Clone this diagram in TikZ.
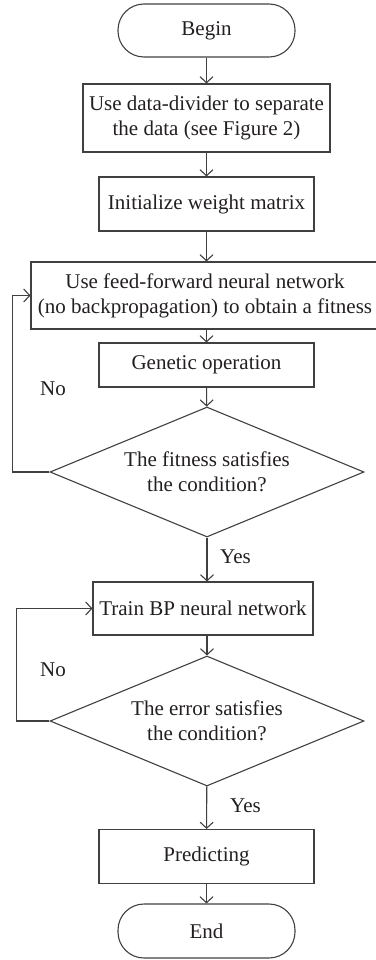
\documentclass[tikz,border=0pt]{standalone}
\usepackage{fontspec}
\setmainfont{Liberation Serif}
\usetikzlibrary{shapes.geometric,arrows.meta}

\definecolor{flowline}{RGB}{64,64,64}
\definecolor{flowtext}{RGB}{35,31,32}

\tikzset{
  procbox/.style={draw=flowline, line width=1.1pt, rectangle, inner sep=0pt, align=center, text=flowtext, font=\fontsize{21}{25}\selectfont},
  termbox/.style={procbox, rounded corners=26pt},
  decbox/.style={procbox, diamond, aspect=2.4, minimum width=314pt, minimum height=130pt},
  flowarr/.style={draw=flowline, line width=1.1pt, -{Straight Barb[length=6pt,width=13pt]}},
  flowlbl/.style={inner sep=0pt, anchor=west, text=flowtext, font=\fontsize{21}{25}\selectfont}
}

\begin{document}
\begin{tikzpicture}[x=1pt,y=1pt,yscale=-1]
            \useasboundingbox (0,0) rectangle (375,960); %page of 375 x 960

            % Terminal
            \node [termbox, minimum width=177pt, minimum height=53pt] (start) at (206.5,30.5) {Begin};
            % Process
            \node [procbox, minimum width=247pt, minimum height=68pt] (divide) at (206.5,118) {Use data-divider to separate\\the data (see Figure 2)};
            % Process
            \node [procbox, minimum width=215pt, minimum height=54pt] (init) at (206.5,204) {Initialize weight matrix};
            % Process
            \node [procbox, minimum width=348pt, minimum height=67pt] (feed) at (205,295.5) {Use feed-forward neural network\\(no backpropagation) to obtain a fitness};
            % Process
            \node [procbox, minimum width=215pt, minimum height=44pt] (genetic) at (206.5,365) {Genetic operation};
            % Decision
            \node [decbox] (fitcheck) at (207,472) {The fitness satisfies\\the condition?};
            % Process
            \node [procbox, minimum width=220pt, minimum height=53pt] (train) at (203,608.5) {Train BP neural network};
            % Decision
            \node [decbox] (errcheck) at (207,721) {The error satisfies\\the condition?};
            % Process
            \node [procbox, minimum width=215pt, minimum height=54pt] (predict) at (206.5,856.5) {Predicting};
            % Terminal
            \node [termbox, minimum width=177pt, minimum height=54pt] (stop) at (206.5,931) {End};

            % Text Node
            \node [flowlbl] (nofit) at (40,389) {No};
            % Text Node
            \node [flowlbl] (yesfit) at (220,557) {Yes};
            % Text Node
            \node [flowlbl] (noerr) at (40,670) {No};
            % Text Node
            \node [flowlbl] (yeserr) at (230,806) {Yes};

            %Straight Lines
            \draw [flowarr] (start) -- (divide);
            \draw [flowarr] (divide) -- (init);
            \draw [flowarr] (init) -- (init |- feed.north);
            \draw [flowarr] (genetic |- feed.south) -- (genetic);
            \draw [flowarr] (genetic) -- (fitcheck);
            \draw [flowarr] (fitcheck.south) -- (fitcheck.south |- train.north);
            \draw [flowarr] (errcheck.north |- train.south) -- (errcheck.north);
            \draw [flowarr] (errcheck) -- (predict);
            \draw [flowarr] (predict) -- (stop);
            %Loop Lines
            \draw [flowarr] (fitcheck.west) -- ++(-37,0) |- (feed.west);
            \draw [flowarr] (errcheck.west) -- ++(-33,0) |- (train.west);

\end{tikzpicture}
\end{document}
